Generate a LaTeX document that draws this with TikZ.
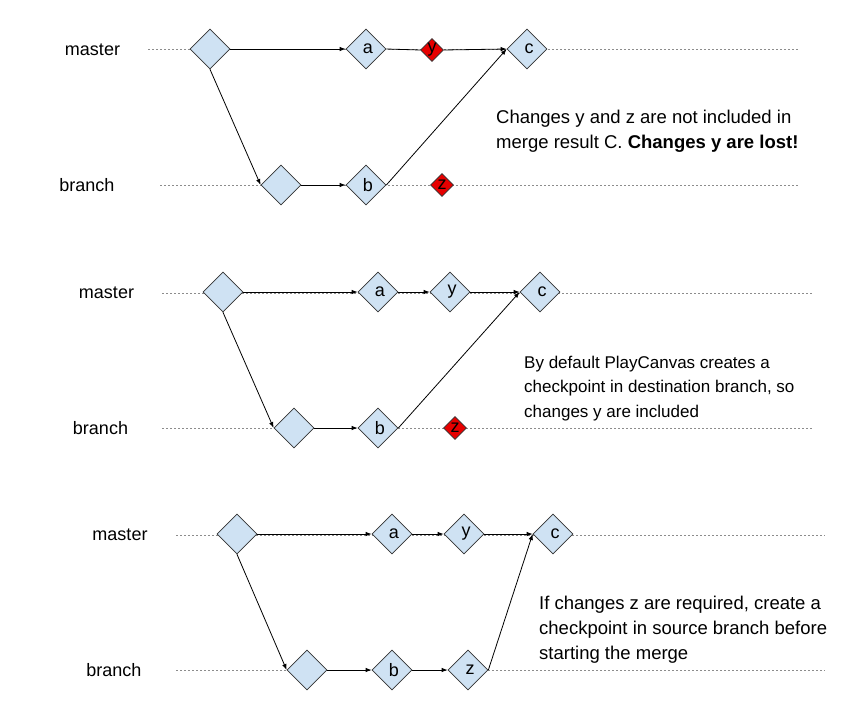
\documentclass[tikz,border=0pt]{standalone}
\usepackage{fontspec}
\setmainfont{Liberation Sans}
\usetikzlibrary{shapes.geometric,arrows.meta}
\definecolor{cblue}{HTML}{CFE2F3}
\definecolor{cred}{HTML}{E60000}
\begin{document}
\begin{tikzpicture}[x=1pt,y=-1pt,
  commit/.style={diamond,draw=black!80,fill=cblue,line width=0.7pt,minimum width=40pt,minimum height=40pt,inner sep=0pt,font=\fontsize{18}{20}\selectfont},
  lost/.style={diamond,draw=black!80,fill=cred,line width=0.7pt,minimum width=23pt,minimum height=23pt,inner sep=0pt,font=\fontsize{18}{20}\selectfont},
  lbl/.style={font=\fontsize{18}{20}\selectfont,inner sep=0pt},
  note/.style={align=left,anchor=north west,inner sep=0pt},
  guide/.style={draw=black!45,line width=0.6pt,dash pattern=on 2pt off 2pt},
  conn/.style={draw=black,line width=0.8pt},
  arr/.style={conn,-{Latex[length=6pt,width=4.5pt]}}]
\useasboundingbox (0,0) rectangle (855,725);

% ---------- panel 1 ----------
\node[lbl] (m1) at (92.5,50) {master};
\node[lbl] (br1) at (87,185) {branch};
\coordinate (m1s) at (148,49); \coordinate (m1e) at (798,49);
\coordinate (b1s) at (160,185); \coordinate (b1e) at (798,185);
\draw[guide] (m1s) -- (m1e);
\draw[guide] (b1s) -- (b1e);
\node[commit] (s1) at (210,49) {};
\node[commit] (a1) at (366,49) {\hspace{4pt}a};
\node[lost] (y1) at (432,50) {y};
\node[commit] (c1) at (527,49) {\hspace{4pt}c};
\node[commit] (t1) at (281,185) {};
\node[commit] (bb1) at (366,185) {\hspace{4pt}b};
\node[lost] (z1) at (442,185) {z};
\draw[arr] (s1.east) -- (a1.west);
\draw[conn] (a1.east) -- (y1.west);
\draw[arr] (y1.east) -- (c1.west);
\draw[arr] (s1.south) -- (t1.west);
\draw[arr] (t1.east) -- (bb1.west);
\draw[arr] (bb1.east) -- (c1.west);
\node[note,font=\fontsize{18.5}{25}\selectfont] (n1) at (496,109.5)
  {Changes y and z are not included in\\merge result C. \textbf{Changes y are lost!}};

% ---------- panel 2 ----------
\node[lbl] (m2) at (106.5,293) {master};
\node[lbl] (br2) at (100.5,428) {branch};
\coordinate (m2s) at (162,293); \coordinate (m2e) at (813,293);
\coordinate (b2s) at (162,428); \coordinate (b2e) at (813,428);
\draw[guide] (m2s) -- (m2e);
\draw[guide] (b2s) -- (b2e);
\node[commit] (s2) at (223,292) {};
\node[commit] (a2) at (378,292) {\hspace{4pt}a};
\node[commit] (y2) at (450,292) {\hspace{4pt}y};
\node[commit] (c2) at (540,292) {\hspace{4pt}c};
\node[commit] (t2) at (294,428) {};
\node[commit] (bb2) at (378,428) {\hspace{4pt}b};
\node[lost] (z2) at (455,428) {z};
\draw[arr] (s2.east) -- (a2.west);
\draw[arr] (a2.east) -- (y2.west);
\draw[arr] (y2.east) -- (c2.west);
\draw[arr] (s2.south) -- (t2.west);
\draw[arr] (t2.east) -- (bb2.west);
\draw[arr] (bb2.east) -- (c2.west);
\node[note,font=\fontsize{17}{24.3}\selectfont] (n2) at (524,356)
  {By default PlayCanvas creates a\\checkpoint in destination branch, so\\changes y are included};

% ---------- panel 3 ----------
\node[lbl] (m3) at (120,535) {master};
\node[lbl] (br3) at (114,670) {branch};
\coordinate (m3s) at (176,535); \coordinate (m3e) at (825,535);
\coordinate (b3s) at (176,670); \coordinate (b3e) at (825,670);
\draw[guide] (m3s) -- (m3e);
\draw[guide] (b3s) -- (b3e);
\node[commit] (s3) at (237,534) {};
\node[commit] (a3) at (392,534) {\hspace{4pt}a};
\node[commit] (y3) at (464,534) {\hspace{4pt}y};
\node[commit] (c3) at (553,534) {\hspace{4pt}c};
\node[commit] (t3) at (307,670) {};
\node[commit] (bb3) at (392,670) {\hspace{4pt}b};
\node[commit] (z3) at (468,670) {\hspace{4pt}z};
\draw[arr] (s3.east) -- (a3.west);
\draw[arr] (a3.east) -- (y3.west);
\draw[arr] (y3.east) -- (c3.west);
\draw[arr] (s3.south) -- (t3.west);
\draw[arr] (t3.east) -- (bb3.west);
\draw[arr] (bb3.east) -- (z3.west);
\draw[arr] (z3.east) -- (c3.west);
\node[note,font=\fontsize{18.5}{25}\selectfont] (n3) at (539,596)
  {If changes z are required, create a\\checkpoint in source branch before\\starting the merge};
\end{tikzpicture}
\end{document}
